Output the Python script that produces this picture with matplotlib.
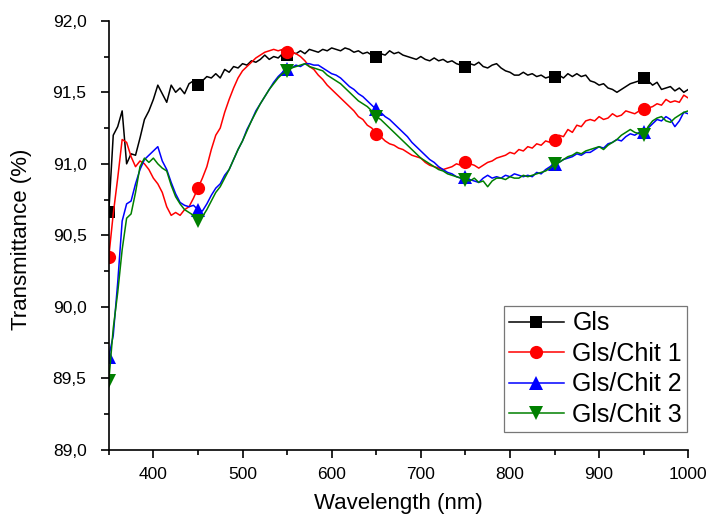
import numpy as np
import matplotlib
matplotlib.use('Agg')
import matplotlib.pyplot as plt
from matplotlib.ticker import MultipleLocator, FuncFormatter

plt.rcParams['font.family'] = ['Liberation Sans', 'DejaVu Sans']

# wavelength grid, 5 nm steps (350..1000 nm)
wl = np.arange(350, 1001, 5)

gls = [90.66, 91.2, 91.26, 91.37, 91.0, 91.07, 91.06, 91.18, 91.31, 91.37,
       91.45, 91.55, 91.49, 91.43, 91.55, 91.5, 91.53, 91.49, 91.56, 91.58,
       91.55, 91.58, 91.61, 91.6, 91.63, 91.6, 91.66, 91.64, 91.68, 91.67,
       91.7, 91.69, 91.72, 91.71, 91.73, 91.76, 91.73, 91.75, 91.74, 91.77,
       91.76, 91.78, 91.77, 91.79, 91.77, 91.8, 91.79, 91.78, 91.8, 91.79,
       91.81, 91.8, 91.79, 91.81, 91.8, 91.78, 91.79, 91.77, 91.78, 91.76,
       91.75, 91.77, 91.76, 91.79, 91.77, 91.78, 91.76, 91.75, 91.74, 91.73,
       91.75, 91.73, 91.72, 91.74, 91.72, 91.73, 91.71, 91.72, 91.7, 91.69,
       91.68, 91.7, 91.69, 91.71, 91.68, 91.67, 91.69, 91.7, 91.67, 91.65,
       91.64, 91.62, 91.62, 91.64, 91.62, 91.63, 91.61, 91.62, 91.6, 91.61,
       91.61, 91.62, 91.6, 91.63, 91.61, 91.63, 91.61, 91.62, 91.58, 91.57,
       91.55, 91.56, 91.53, 91.52, 91.5, 91.52, 91.54, 91.56, 91.57, 91.58,
       91.6, 91.58, 91.55, 91.57, 91.52, 91.53, 91.54, 91.51, 91.53, 91.5,
       91.52]

chit1 = [90.35, 90.65, 90.9, 91.17, 91.15, 91.05, 90.98, 91.02, 91.0, 90.96,
         90.9, 90.86, 90.8, 90.7, 90.64, 90.66, 90.64, 90.68, 90.7, 90.76,
         90.83, 90.9, 90.98, 91.1, 91.2, 91.25, 91.36, 91.45, 91.53, 91.6,
         91.65, 91.68, 91.71, 91.74, 91.76, 91.78, 91.79, 91.8, 91.79, 91.8,
         91.78, 91.78, 91.77, 91.75, 91.72, 91.68, 91.66, 91.62, 91.59, 91.55,
         91.52, 91.49, 91.46, 91.43, 91.4, 91.37, 91.33, 91.31, 91.27, 91.25,
         91.21, 91.19, 91.16, 91.14, 91.13, 91.11, 91.1, 91.08, 91.06, 91.05,
         91.04, 91.01, 90.99, 90.98, 90.97, 90.96, 90.97, 90.98, 91.0, 90.99,
         91.01, 91.0, 90.99, 90.97, 90.99, 91.01, 91.02, 91.04, 91.05, 91.06,
         91.08, 91.07, 91.1, 91.09, 91.12, 91.11, 91.14, 91.13, 91.16, 91.15,
         91.17, 91.2, 91.19, 91.24, 91.22, 91.27, 91.26, 91.3, 91.31, 91.3,
         91.33, 91.31, 91.32, 91.35, 91.33, 91.34, 91.37, 91.36, 91.35, 91.37,
         91.38, 91.39, 91.4, 91.42, 91.41, 91.45, 91.43, 91.44, 91.43, 91.48,
         91.46]

chit2 = [89.65, 89.8, 90.17, 90.6, 90.72, 90.74, 90.86, 90.96, 91.03, 91.06,
         91.09, 91.12, 91.02, 90.96, 90.87, 90.79, 90.73, 90.71, 90.7, 90.71,
         90.68, 90.67, 90.72, 90.78, 90.83, 90.86, 90.92, 90.96, 91.03, 91.1,
         91.16, 91.24, 91.3, 91.37, 91.42, 91.47, 91.52, 91.57, 91.61, 91.64,
         91.66, 91.67, 91.69, 91.68, 91.7, 91.7, 91.69, 91.69, 91.67, 91.65,
         91.63, 91.62, 91.6, 91.57, 91.54, 91.52, 91.49, 91.47, 91.44, 91.41,
         91.38, 91.36, 91.33, 91.31, 91.28, 91.25, 91.22, 91.19, 91.15, 91.12,
         91.09, 91.06, 91.03, 91.01, 90.98, 90.96, 90.94, 90.93, 90.91, 90.9,
         90.91, 90.89, 90.88, 90.87, 90.9, 90.92, 90.9, 90.91, 90.9, 90.92,
         90.91, 90.93, 90.92, 90.91, 90.92, 90.91, 90.94, 90.93, 90.96, 90.98,
         91.0, 91.01, 91.03, 91.04, 91.05, 91.07, 91.06, 91.08, 91.08, 91.1,
         91.12, 91.11, 91.14, 91.15, 91.17, 91.16, 91.19, 91.21, 91.2, 91.22,
         91.22, 91.25, 91.28, 91.31, 91.3, 91.33, 91.31, 91.26, 91.3, 91.36,
         91.35]

chit3 = [89.48, 89.85, 90.1, 90.4, 90.62, 90.65, 90.8, 90.98, 91.04, 91.01,
         91.04, 91.0, 90.97, 90.95, 90.85, 90.77, 90.72, 90.68, 90.66, 90.64,
         90.6, 90.63, 90.68, 90.74, 90.8, 90.84, 90.9, 90.96, 91.03, 91.1,
         91.16, 91.23, 91.3, 91.36, 91.42, 91.47, 91.52, 91.56, 91.6, 91.63,
         91.65, 91.67, 91.68, 91.69, 91.7, 91.68, 91.67, 91.66, 91.65, 91.62,
         91.6, 91.58, 91.56, 91.53, 91.5, 91.47, 91.44, 91.42, 91.4, 91.37,
         91.33, 91.31, 91.28, 91.25, 91.22, 91.19, 91.16, 91.13, 91.1, 91.07,
         91.04, 91.02, 91.0, 90.98, 90.96, 90.95, 90.93, 90.92, 90.91, 90.9,
         90.89, 90.88, 90.9, 90.87, 90.88, 90.84, 90.88, 90.9, 90.9, 90.89,
         90.91, 90.9, 90.9, 90.92, 90.91, 90.92, 90.93, 90.94, 90.95, 90.97,
         91.0, 91.01, 91.03, 91.05, 91.06, 91.08, 91.07, 91.09, 91.1, 91.11,
         91.12, 91.1, 91.13, 91.15, 91.17, 91.2, 91.22, 91.24, 91.22, 91.21,
         91.2, 91.26, 91.3, 91.32, 91.33, 91.3, 91.29, 91.32, 91.34, 91.36,
         91.37]

labels = ['Gls', 'Gls/Chit 1', 'Gls/Chit 2', 'Gls/Chit 3']
colors = ['black', 'red', 'blue', 'green']
markers = ['s', 'o', '^', 'v']
msizes = [8.5, 9.5, 9.5, 9.5]

fig = plt.figure(figsize=(7.11, 5.19), dpi=100)
ax = fig.add_axes([0.153, 0.133, 0.815, 0.827])

for y, lab, c, mk, ms in zip([gls, chit1, chit2, chit3], labels, colors, markers, msizes):
    ax.plot(wl, y, color=c, lw=1.1, marker=mk, ms=ms, markevery=20,
            markeredgewidth=0, label=lab)

ax.set_xlim(350, 1000)
ax.set_ylim(89.0, 92.0)
ax.xaxis.set_major_locator(MultipleLocator(100))
ax.xaxis.set_minor_locator(MultipleLocator(50))
ax.yaxis.set_major_locator(MultipleLocator(0.5))
ax.yaxis.set_minor_locator(MultipleLocator(0.25))
ax.yaxis.set_major_formatter(FuncFormatter(lambda v, p: f"{v:.1f}".replace('.', ',')))

ax.spines['top'].set_visible(False)
ax.spines['right'].set_visible(False)
ax.spines['left'].set_linewidth(1.2)
ax.spines['bottom'].set_linewidth(1.2)
ax.tick_params(which='major', direction='out', length=6, width=1.2, labelsize=12.5)
ax.tick_params(which='minor', direction='out', length=3.5, width=1.2)
ax.tick_params(axis='x', which='major', pad=6)
ax.tick_params(axis='y', which='major', pad=10)

ax.set_xlabel('Wavelength (nm)', fontsize=16, labelpad=8)
ax.set_ylabel('Transmittance (%)', fontsize=16)
ax.yaxis.set_label_coords(-0.133, 0.49)

leg = ax.legend(loc='lower right', bbox_to_anchor=(0.998, 0.042), borderaxespad=0,
                fontsize=18, fancybox=False, edgecolor='#555555', handlelength=2.2,
                handletextpad=0.35, labelspacing=0.26, borderpad=0.2)
leg.get_frame().set_linewidth(0.9)

fig.savefig('out.png', dpi=100)
